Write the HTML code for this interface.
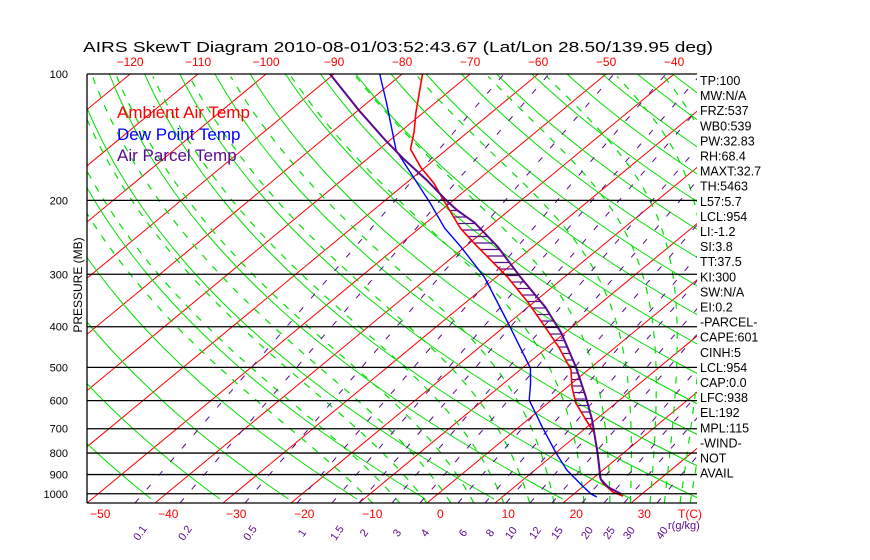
<!DOCTYPE html>
<html><head><meta charset="utf-8"><style>
html,body{margin:0;padding:0;background:#fff;}
svg{display:block;font-family:"Liberation Sans",sans-serif;}
</style></head><body>
<svg id="chart" width="870" height="560" viewBox="0 0 870 560">
<defs><clipPath id="plotclip"><rect x="87" y="74" width="610" height="429"/></clipPath></defs>
<text x="83" y="52" font-size="15" textLength="630" lengthAdjust="spacingAndGlyphs" fill="#000">AIRS SkewT Diagram 2010-08-01/03:52:43.67 (Lat/Lon 28.50/139.95 deg)</text>
<g id="grid" clip-path="url(#plotclip)"></g>
<g id="series" clip-path="url(#plotclip)"></g>
<g id="axes"></g>
<text x="117" y="118" font-size="17" fill="#f00">Ambient Air Temp</text>
<text x="117" y="140" font-size="17" fill="#00f">Dew Point Temp</text>
<text x="117" y="161" font-size="17" fill="#5a0a8c">Air Parcel Temp</text>
<text transform="translate(82,285) rotate(-90)" font-size="12" text-anchor="middle" fill="#000">PRESSURE (MB)</text>
</svg>
<script>
const pressureTicks=[100,200,300,400,500,600,700,800,900,1000];
const tempTicksTop=[-120,-110,-100,-90,-80,-70,-60,-50,-40];
const tempTicksBottom=[-50,-40,-30,-20,-10,0,10,20,30];
const mixTicks=["0.1","0.2","0.5","1","1.5","2","3","4","6","8","10","12","15","20","25","30","40"];
const mixTickX=[143,188,253,305,340,367,400,428,466,493,514,538,560,590,612,632,665];
const moistStartT=[-8,-4,0,3.5,6.9,11.3,15.1,18.7,23.1,26.9,29.9,32.8,34.9,37.2,38.7];
const ambP=[100,124,137,151,167,182,200,233,253,305,351,401,447,507,557,608,667,716,800,912,943,991,1013];
const ambT=[-77,-71,-68,-65.4,-60.6,-55.9,-51.4,-44,-39.3,-28.3,-20.7,-13.9,-8.4,-2.5,0.7,4.1,8.6,12.1,16.2,20.8,22.3,25.4,27.6];
const dewP=[100,117,152,176,203,233,258,305,392,502,545,598,693,800,878,954,1001,1018];
const dewT=[-83.3,-77.2,-67.3,-60,-52.9,-46.3,-40.6,-31.7,-20.1,-8.8,-6.1,-3.3,3.4,10.1,14.7,19.6,22.5,23.9];
const parP=[100,122,144,159,179,200,211,226,258,305,359,414,499,588,667,800,923,964,1001];
const parT=[-90.6,-79.9,-70.6,-64.8,-57.5,-51,-47.7,-42.9,-35.2,-26.4,-17.5,-10.5,-2.3,4.5,9.5,16.2,21.3,23.8,26.9];
const indices=["TP:100","MW:N/A","FRZ:537","WB0:539","PW:32.83","RH:68.4","MAXT:32.7","TH:5463","L57:5.7","LCL:954","LI:-1.2","SI:3.8","TT:37.5","KI:300","SW:N/A","EI:0.2","-PARCEL-","CAPE:601","CINH:5","LCL:954","CAP:0.0","LFC:938","EL:192","MPL:115","-WIND-","NOT","AVAIL"];

const NS="http://www.w3.org/2000/svg";
const L=87,R=697,T0=74,B=503,SK=1.21,KP=182.3,KT=6.8;
function yP(p){return T0+KP*Math.log(p/100);}
function pY(y){return 100*Math.exp((y-T0)/KP);}
function xT(t,y){return L+(t+50)*KT+SK*(B-y);}
function mk(tag,attrs,parent){const e=document.createElementNS(NS,tag);for(const k in attrs)e.setAttribute(k,attrs[k]);parent.appendChild(e);return e;}
const grid=document.getElementById('grid'),ser=document.getElementById('series'),axes=document.getElementById('axes');

for(let t=-130;t<=50;t+=10){
  const l=mk('line',{x1:xT(t,B),y1:B,x2:xT(t,T0),y2:T0,stroke:'#f00','stroke-width':1},grid);
  
  
}
for(let th=150;th<=650;th+=10){
  let d='';
  for(let y=T0;y<=B;y+=5){const p=pY(y);const t=th*Math.pow(p/1000,0.286)-273.15;d+=(d?'L':'M')+xT(t,y).toFixed(1)+','+y;}
  const e=mk('path',{d:d,fill:'none',stroke:'#00e000','stroke-width':1},grid);
  
  
}
function es(tc){return 6.112*Math.exp(17.67*tc/(tc+243.5));}
moistStartT.forEach(t0=>{
  let T=t0+273.15,lnp=Math.log(1052);let d='';
  const stop=Math.log(100);const h=-0.01;
  while(lnp>=stop){
    const p=Math.exp(lnp);const y=yP(p);
    d+=(d?'L':'M')+xT(T-273.15,y).toFixed(1)+','+y.toFixed(1);
    for(let k=0;k<3;k++){
      const pp=Math.exp(lnp);const e_=es(T-273.15);const rs=0.622*e_/Math.max(pp-e_,1);
      const dT=(287*T+2.5e6*rs)/(1004+2.5e6*2.5e6*rs*0.622/(287*T*T));
      T+=dT*h;lnp+=h;
    }
  }
  const e=mk('path',{d:d,fill:'none',stroke:'#00e000','stroke-width':1.2,'stroke-dasharray':'7 8'},grid);
  
  
});
for(let i=0;i<mixTickX.length;i++){
  const xb=mixTickX[i]-8;
  const e=mk('line',{x1:xb,y1:B,x2:xb+0.86*(B-T0),y2:T0,stroke:'#5a0a8c','stroke-width':1,'stroke-dasharray':'6 12'},grid);
  
  
}
pressureTicks.forEach(p=>{
  const y=yP(p);
  const l=mk('line',{x1:L,y1:y,x2:R,y2:y,stroke:'#000','stroke-width':1.3},axes);
  
  
  const t=mk('text',{x:68,y:y+4,'font-size':11,'text-anchor':'end',fill:'#000'},axes);
  t.textContent=p;
  
  
});
const lb=mk('line',{x1:L,y1:T0,x2:L,y2:B,stroke:'#000','stroke-width':1.3},axes);


const bb=mk('line',{x1:L,y1:B,x2:R,y2:B,stroke:'#000','stroke-width':1.3},axes);


tempTicksTop.forEach(t=>{
  const e=mk('text',{x:xT(t,T0),y:66,'font-size':12,'text-anchor':'middle',fill:'#f00'},axes);
  e.textContent=String(t).replace('-','\u2212');
  
  
});
tempTicksBottom.forEach(t=>{
  const e=mk('text',{x:xT(t,492),y:518,'font-size':12,'text-anchor':'middle',fill:'#f00'},axes);
  e.textContent=String(t).replace('-','\u2212');
  
  
});
const tc=mk('text',{x:690,y:518,'font-size':12,'text-anchor':'middle',fill:'#f00'},axes);
tc.textContent='T(C)';


mixTicks.forEach((m,i)=>{
  const e=mk('text',{transform:'translate('+mixTickX[i]+',535) rotate(-55)','font-size':11,'text-anchor':'middle',fill:'#5a0a8c'},axes);
  e.textContent=m;
  
  
});
const gk=mk('text',{x:668,y:529,'font-size':11,fill:'#5a0a8c'},axes);
gk.textContent='r(g/kg)';


indices.forEach((s,i)=>{
  const e=mk('text',{x:700,y:85+i*15.1,'font-size':12.5,fill:'#000'},axes);
  e.textContent=s;
  
  
});

function interp(P,Tv,p){
  for(let i=0;i<P.length-1;i++){if(p>=P[i]&&p<=P[i+1]){const f=Math.log(p/P[i])/Math.log(P[i+1]/P[i]);return Tv[i]+f*(Tv[i+1]-Tv[i]);}}
  return null;
}
for(let y=yP(190);y<=yP(700);y+=6.5){
  const p=pY(y);
  const ta=interp(ambP,ambT,p),tp=interp(parP,parT,p);
  if(ta===null||tp===null||tp<=ta)continue;
  const e=mk('line',{x1:xT(ta,y),y1:y,x2:xT(tp,y),y2:y,stroke:'#5a0a8c','stroke-width':1.2},ser);
  
  
}
function curve(P,Tv,color,w,name){
  const d=P.map((p,i)=>{const y=yP(p);return (i?'L':'M')+xT(Tv[i],y).toFixed(1)+','+y.toFixed(1);}).join('');
  const e=mk('path',{d:d,fill:'none',stroke:color,'stroke-width':w},ser);
  
  
}
curve(dewP,dewT,'#00f',1.4,'dew-point-line');
curve(ambP,ambT,'#f00',1.6,'ambient-temp-line');
curve(parP,parT,'#5a0a8c',2,'parcel-temp-line');
</script>
</body></html>
